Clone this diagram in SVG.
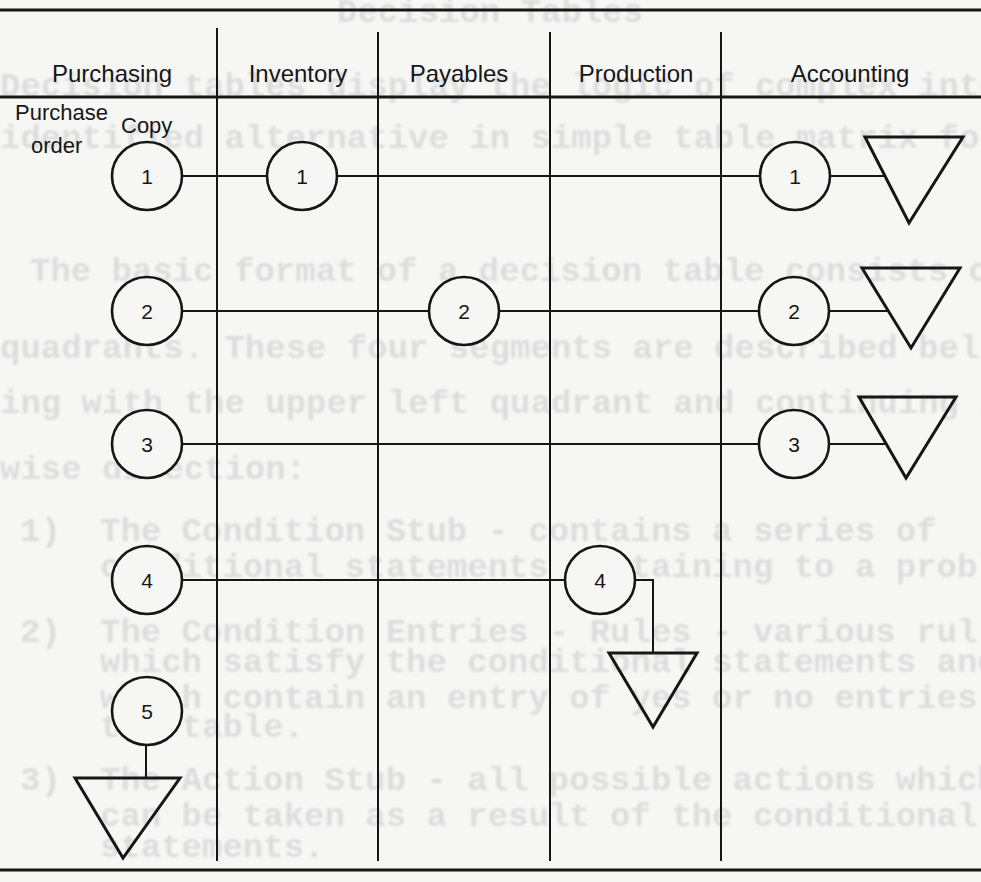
<svg xmlns="http://www.w3.org/2000/svg" width="981" height="882" viewBox="0 0 981 882">
  <defs>
    <filter id="soft" x="-5%" y="-50%" width="110%" height="200%">
      <feGaussianBlur stdDeviation="0.9"/>
    </filter>
  </defs>
  <style>
    .ghost { font-family: "Liberation Mono", "DejaVu Sans Mono", monospace; font-weight: bold; font-size: 34px; fill: #dddddd; }
    .rule { stroke: #161616; stroke-width: 3; fill: none; }
    .lane { stroke: #161616; stroke-width: 2; fill: none; }
    .head { font-family: "Liberation Sans", Arial, sans-serif; font-size: 24px; fill: #161616; text-anchor: middle; }
    .note { font-family: "Liberation Sans", Arial, sans-serif; font-size: 22px; fill: #161616; }
    .doc ellipse { stroke: #161616; stroke-width: 2.6; fill: #f6f6f5; }
    .doc text { font-family: "Liberation Sans", Arial, sans-serif; font-size: 21px; fill: #161616; text-anchor: middle; }
    .file polygon { stroke: #161616; stroke-width: 3; fill: none; stroke-linejoin: miter; }
    .flow { stroke: #161616; stroke-width: 2; fill: none; }
  </style>

  <!-- paper -->
  <rect x="0" y="0" width="981" height="882" fill="#f6f6f5"/>

  <!-- typed text showing through from the reverse side of the page -->
  <g id="show-through" class="ghost" filter="url(#soft)">
    <text x="337" y="22">Decision Tables</text>
    <text x="0" y="96">Decision tables display the logic of complex inter</text>
    <text x="0" y="148">identified alternative in simple table matrix fo</text>
    <text x="30" y="281">The basic format of a decision table consists of</text>
    <text x="0" y="358">quadrants. These four segments are described bel</text>
    <text x="0" y="413">ing with the upper left quadrant and continuing in</text>
    <text x="0" y="479">wise direction:</text>
    <text y="541"><tspan x="20">1)</tspan><tspan x="100">The Condition Stub - contains a series of</tspan></text>
    <text x="100" y="577">conditional statements pertaining to a proble</text>
    <text y="642"><tspan x="20">2)</tspan><tspan x="100">The Condition Entries - Rules - various rul</tspan></text>
    <text x="100" y="672">which satisfy the conditional statements and</text>
    <text x="100" y="708">which contain an entry of yes or no entries in</text>
    <text x="100" y="737">the table.</text>
    <text y="790"><tspan x="20">3)</tspan><tspan x="100">The Action Stub - all possible actions which</tspan></text>
    <text x="100" y="826">can be taken as a result of the conditional</text>
    <text x="100" y="857">statements.</text>
  </g>

  <!-- frame rules and swimlane dividers -->
  <g id="lanes">
    <line class="rule" x1="0" y1="10" x2="981" y2="10"/>
    <line class="rule" x1="0" y1="97" x2="981" y2="97"/>
    <line class="rule" x1="0" y1="870" x2="981" y2="870"/>
    <line class="lane" x1="217" y1="28" x2="217" y2="861"/>
    <line class="lane" x1="378" y1="32" x2="378" y2="861"/>
    <line class="lane" x1="550" y1="32" x2="550" y2="861"/>
    <line class="lane" x1="721" y1="32" x2="721" y2="861"/>
  </g>

  <!-- lane headings -->
  <g id="headings">
    <text class="head" x="112" y="82">Purchasing</text>
    <text class="head" x="298" y="82">Inventory</text>
    <text class="head" x="459" y="82">Payables</text>
    <text class="head" x="636" y="82">Production</text>
    <text class="head" x="850" y="82">Accounting</text>
    <text class="note" x="15" y="120">Purchase</text>
    <text class="note" x="121" y="133">Copy</text>
    <text class="note" x="31" y="153">order</text>
  </g>

  <!-- document flow connectors -->
  <g id="connectors">
    <line class="flow" x1="182" y1="176" x2="267" y2="176"/>
    <line class="flow" x1="337" y1="176" x2="760" y2="176"/>
    <line class="flow" x1="830" y1="176" x2="885" y2="176"/>

    <line class="flow" x1="182" y1="311" x2="429" y2="311"/>
    <line class="flow" x1="499" y1="311" x2="759" y2="311"/>
    <line class="flow" x1="829" y1="311" x2="888" y2="311"/>

    <line class="flow" x1="182" y1="444" x2="759" y2="444"/>
    <line class="flow" x1="829" y1="444" x2="886" y2="444"/>

    <line class="flow" x1="182" y1="580" x2="565" y2="580"/>
    <polyline class="flow" points="635,580 653,580 653,653"/>

    <line class="flow" x1="146" y1="745" x2="146" y2="778"/>
  </g>

  <!-- copies of the purchase order -->
  <g id="copy1-purchasing" class="doc"><ellipse cx="147" cy="176" rx="35" ry="34"/><text x="147" y="184">1</text></g>
  <g id="copy1-inventory" class="doc"><ellipse cx="302" cy="176" rx="35" ry="34"/><text x="302" y="184">1</text></g>
  <g id="copy1-accounting" class="doc"><ellipse cx="795" cy="176" rx="35" ry="34"/><text x="795" y="184">1</text></g>

  <g id="copy2-purchasing" class="doc"><ellipse cx="147" cy="311" rx="35" ry="34"/><text x="147" y="319">2</text></g>
  <g id="copy2-payables" class="doc"><ellipse cx="464" cy="311" rx="35" ry="34"/><text x="464" y="319">2</text></g>
  <g id="copy2-accounting" class="doc"><ellipse cx="794" cy="311" rx="35" ry="34"/><text x="794" y="319">2</text></g>

  <g id="copy3-purchasing" class="doc"><ellipse cx="147" cy="444" rx="35" ry="34"/><text x="147" y="452">3</text></g>
  <g id="copy3-accounting" class="doc"><ellipse cx="794" cy="444" rx="35" ry="34"/><text x="794" y="452">3</text></g>

  <g id="copy4-purchasing" class="doc"><ellipse cx="147" cy="580" rx="35" ry="34"/><text x="147" y="588">4</text></g>
  <g id="copy4-production" class="doc"><ellipse cx="600" cy="580" rx="35" ry="34"/><text x="600" y="588">4</text></g>

  <g id="copy5-purchasing" class="doc"><ellipse cx="147" cy="711" rx="35" ry="34"/><text x="147" y="719">5</text></g>

  <!-- files where each copy ends up -->
  <g id="file1-accounting" class="file"><polygon points="865,137 963,137 909,223"/></g>
  <g id="file2-accounting" class="file"><polygon points="862,268 960,268 911,348"/></g>
  <g id="file3-accounting" class="file"><polygon points="859,397 956,397 906,478"/></g>
  <g id="file4-production" class="file"><polygon points="609,653 697,653 653,727"/></g>
  <g id="file5-purchasing" class="file"><polygon points="75,778 180,778 123,858"/></g>
</svg>
